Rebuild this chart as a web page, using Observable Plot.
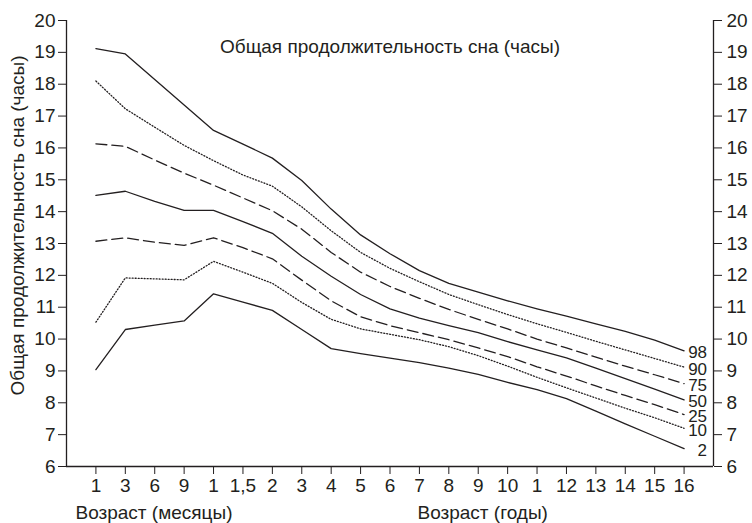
<!DOCTYPE html>
<html>
<head>
<meta charset="utf-8">
<script src="https://cdn.jsdelivr.net/npm/d3@7"></script>
<script src="https://cdn.jsdelivr.net/npm/@observablehq/plot@0.6"></script>
<style>
  html, body { margin: 0; padding: 0; background: #fff; }
  svg { font-family: "Liberation Sans", Arial, Helvetica, sans-serif; }
</style>
</head>
<body>
<div id="chart"></div>
<script>
// Age categories (months 1..9, then years 1..16)
const xLabels = ["1","3","6","9","1","1,5","2","3","4","5","6","7","8","9","10","1","12","13","14","15","16"];
const yTicks = [6,7,8,9,10,11,12,13,14,15,16,17,18,19,20];

// Percentile series (total sleep duration, hours)
const p98 = [19.12,18.95,18.15,17.35,16.55,16.12,15.68,14.98,14.08,13.27,12.68,12.15,11.75,11.47,11.20,10.95,10.72,10.48,10.24,9.97,9.63];
const p90 = [18.10,17.23,16.65,16.08,15.60,15.15,14.80,14.15,13.40,12.72,12.22,11.80,11.40,11.08,10.77,10.48,10.21,9.93,9.66,9.39,9.12];
const p75 = [16.13,16.05,15.62,15.21,14.83,14.43,14.03,13.45,12.72,12.10,11.65,11.28,10.93,10.62,10.32,10.00,9.72,9.43,9.15,8.88,8.60];
const p50 = [14.51,14.64,14.32,14.04,14.04,13.69,13.32,12.60,11.97,11.40,10.95,10.66,10.42,10.20,9.92,9.66,9.41,9.09,8.76,8.43,8.09];
const p25 = [13.07,13.18,13.04,12.94,13.18,12.87,12.52,11.85,11.20,10.70,10.42,10.20,9.98,9.72,9.45,9.13,8.84,8.53,8.23,7.94,7.63];
const p10 = [10.53,11.92,11.89,11.86,12.44,12.10,11.75,11.15,10.62,10.32,10.15,9.98,9.76,9.48,9.15,8.80,8.47,8.15,7.83,7.53,7.20];
const p2  = [9.04,10.30,10.44,10.57,11.42,11.16,10.90,10.30,9.70,9.54,9.40,9.26,9.09,8.89,8.64,8.41,8.13,7.74,7.34,6.95,6.56];

const seriesNames = ["98","90","75","50","25","10","2"];
const seriesValues = [p98, p90, p75, p50, p25, p10, p2];

const titleText = "Общая продолжительность сна (часы)";
const yLabelText = "Общая продолжительность сна (часы)";
const xLabelMonths = "Возраст (месяцы)";
const xLabelYears = "Возраст (годы)";

// styles
const ink = "#231f20";
const dashFor = {"98": null, "90": "1,2", "75": "11,5", "50": null, "25": "11,5", "10": "1,2", "2": null};

const rows = [];
seriesNames.forEach((name, s) => {
  seriesValues[s].forEach((v, i) => rows.push({series: name, i, v}));
});
const ends = seriesNames.map((name, s) => ({series: name, i: xLabels.length - 1, v: seriesValues[s][xLabels.length - 1]}));

const fontSize = 19;
const labelSize = 17;

const lineMarks = seriesNames.map(name => Plot.line(rows.filter(d => d.series === name), {
  x: "i", y: "v", stroke: ink, strokeWidth: 1.3,
  strokeDasharray: dashFor[name] || undefined
}));

const chart = Plot.plot({
  width: 752,
  height: 523,
  marginLeft: 66,
  marginRight: 39,
  marginTop: 20,
  marginBottom: 57,
  style: {fontSize: fontSize + "px", fontFamily: "'Liberation Sans', Arial, Helvetica, sans-serif", color: ink, background: "#fff"},
  x: {domain: [-1, xLabels.length], axis: null},
  y: {domain: [6, 20], axis: null},
  marks: [
    Plot.ruleY([6], {stroke: ink, strokeWidth: 1.3}),
    Plot.ruleX([-1, xLabels.length], {stroke: ink, strokeWidth: 1.3}),
    Plot.axisX({ticks: d3.range(xLabels.length), tickFormat: i => xLabels[i], tickSize: 8, tickPadding: 4, stroke: ink, fill: ink, fontSize: fontSize, label: null}),
    Plot.axisY({anchor: "left", ticks: yTicks, tickFormat: d => String(d), tickSize: 8, tickPadding: 3, stroke: ink, fill: ink, fontSize: fontSize, label: null}),
    Plot.axisY({anchor: "right", ticks: yTicks, tickFormat: d => String(d), tickSize: 8, tickPadding: 5, stroke: ink, fill: ink, fontSize: fontSize, label: null}),
    ...lineMarks,
    Plot.text(ends, {x: "i", y: "v", text: "series", textAnchor: "end", dx: 23, dy: 2, fill: ink, fontSize: labelSize}),
    Plot.text([titleText], {frameAnchor: "top", dy: 26, textAnchor: "middle", lineAnchor: "middle", fill: ink, fontSize: fontSize}),
    Plot.text([yLabelText], {frameAnchor: "left", dx: -49, dy: -18, rotate: -90, textAnchor: "middle", lineAnchor: "middle", fill: ink, fontSize: fontSize}),
    Plot.text([xLabelMonths], {frameAnchor: "bottom-left", dx: 9, dy: 46, textAnchor: "start", lineAnchor: "middle", fill: ink, fontSize: fontSize}),
    Plot.text([xLabelYears], {frameAnchor: "bottom-left", dx: 351, dy: 46, textAnchor: "start", lineAnchor: "middle", fill: ink, fontSize: fontSize})
  ]
});
document.getElementById("chart").appendChild(chart);
</script>
</body>
</html>
